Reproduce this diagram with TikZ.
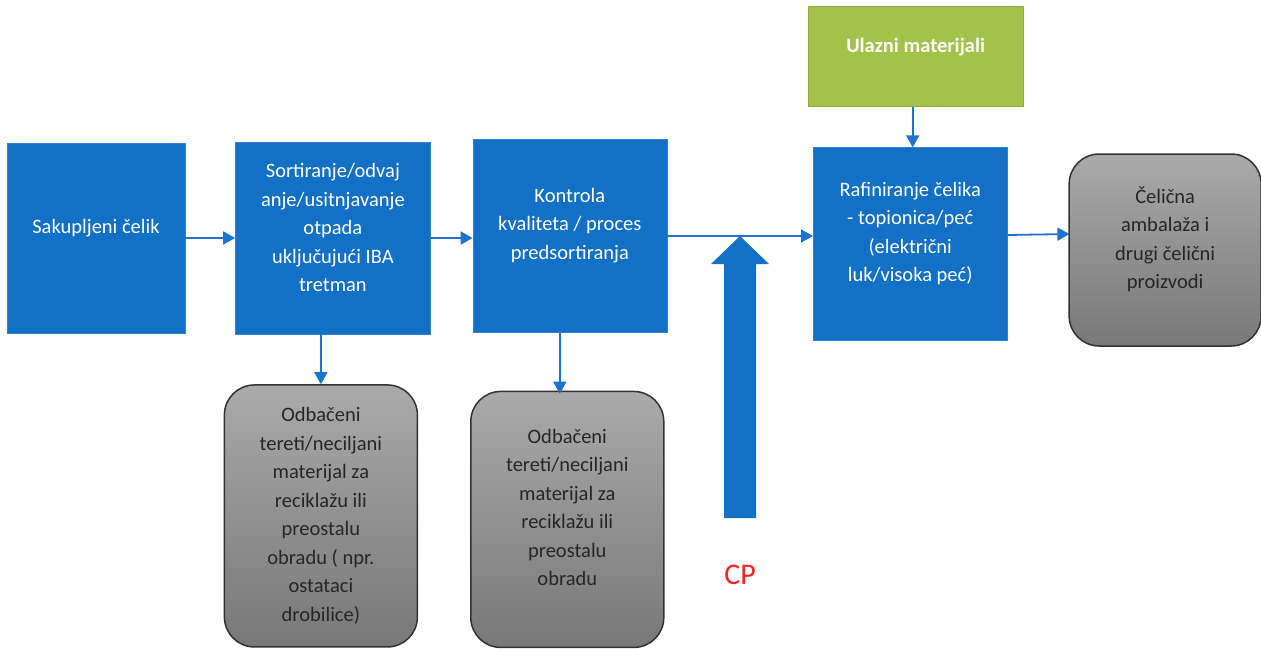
\documentclass[tikz,border=0pt]{standalone}
\usepackage{fontspec}
\setmainfont{Carlito}
\usepackage{tikz}
\usetikzlibrary{positioning, arrows.meta, calc}
\definecolor{procblue}{RGB}{18,112,199}
\definecolor{procedge}{RGB}{55,128,205}
\definecolor{inputgreen}{RGB}{164,194,74}
\definecolor{inputedge}{RGB}{140,172,62}
\definecolor{wastetop}{RGB}{170,170,170}
\definecolor{wastebot}{RGB}{120,120,120}
\definecolor{wasteedge}{RGB}{50,50,50}
\definecolor{arrowblue}{RGB}{28,116,204}
\definecolor{cpred}{RGB}{250,35,35}
\tikzset{
x=1pt, y=-1pt, % one unit is one pixel of the reference, y runs downwards
boxfont/.style={font=\fontsize{20.5}{28.5}\selectfont}, % Calibri-like text in all boxes
proc/.style={boxfont, draw=procedge, fill=procblue, text=white, minimum width=194pt, minimum height=193pt, align=center}, % blue process boxes
input/.style={font=\bfseries\fontsize{20.5}{28.5}\selectfont, draw=inputedge, line width=1pt, fill=inputgreen, text=white, minimum width=215pt, minimum height=100pt, align=center}, % green input box
waste/.style={boxfont, draw=wasteedge, line width=1.5pt, rounded corners=30pt, top color=wastetop, bottom color=wastebot, text=black!85, minimum width=193pt, align=center}, % grey rounded output boxes
flow/.style={draw=arrowblue, line width=1.8pt, -{Triangle[length=12pt,width=13pt]}}, % thin flow arrows
}

\begin{document}
\begin{tikzpicture}
\useasboundingbox (0,0) rectangle (1261,648);

    \node[proc, minimum width=178pt, minimum height=190pt] (sak) at (96,238) {Sakupljeni čelik\\[-6pt]};
    \node[proc, minimum width=195pt, minimum height=192pt, right=50pt of sak] (sort) {Sortiranje/odvaj\\anje/usitnjavanje\\otpada\\uključujući IBA\\tretman\\[-8pt]};
    \node[proc, right=42pt of sort, yshift=2pt] (kon) {Kontrola\\kvaliteta / proces\\predsortiranja\\[-4pt]};
    \node[proc, right=146pt of kon, yshift=-8pt] (raf) {Rafiniranje čelika\\- topionica/peć\\(električni\\luk/visoka peć)\\[-4pt]};
    \node[input, above=40pt of raf, xshift=5.5pt] (ula) {Ulazni materijali\\[-6pt]};
    \node[waste, minimum width=192pt, minimum height=192pt, right=61pt of raf, yshift=-6pt] (cel) {Čelična\\ambalaža i\\drugi čelični\\proizvodi\\[-4pt]};
    \node[waste, minimum height=262pt, below=50pt of sort, xshift=-12pt] (odb1) {Odbačeni\\tereti/neciljani\\materijal za\\reciklažu ili\\preostalu\\obradu ( npr.\\ostataci\\drobilice)};
    \node[waste, minimum height=256pt, below=58pt of kon, xshift=-2.5pt] (odb2) {Odbačeni\\tereti/neciljani\\materijal za\\reciklažu ili\\preostalu\\obradu\\[-4pt]};

    % CP feed into the line between control and refining
    \coordinate (cp) at ($(kon.east)!0.5!(kon.east -| raf.west)$);
    \fill[procblue] (cp) -- ++(29,28) -- ++(-13,0) -- ++(0,254) -- ++(-32,0) -- ++(0,-254) -- ++(-13,0) -- cycle;
    \node[text=cpred, font=\fontsize{30}{34}\selectfont] (cplbl) at (740,575) {CP};

    \draw[flow] (sak) -- (sort);
    \draw[flow] (sort) -- (kon.west |- sort);
    \draw[flow] (kon.east) -- (kon.east -| raf.west);
    \draw[flow] ([xshift=-3pt]ula.south) -- ([xshift=-3pt]ula.south |- raf.north);
    \draw[flow] ([yshift=9pt]raf.east) -- ++(62,-1);
    \draw[flow] (odb1.north |- sort.south) -- (odb1.north);
    \draw[flow] ([xshift=-10pt]kon.south) -- ([xshift=-10pt,yshift=-3pt]kon.south |- odb2.north);
\end{tikzpicture}
\end{document}
